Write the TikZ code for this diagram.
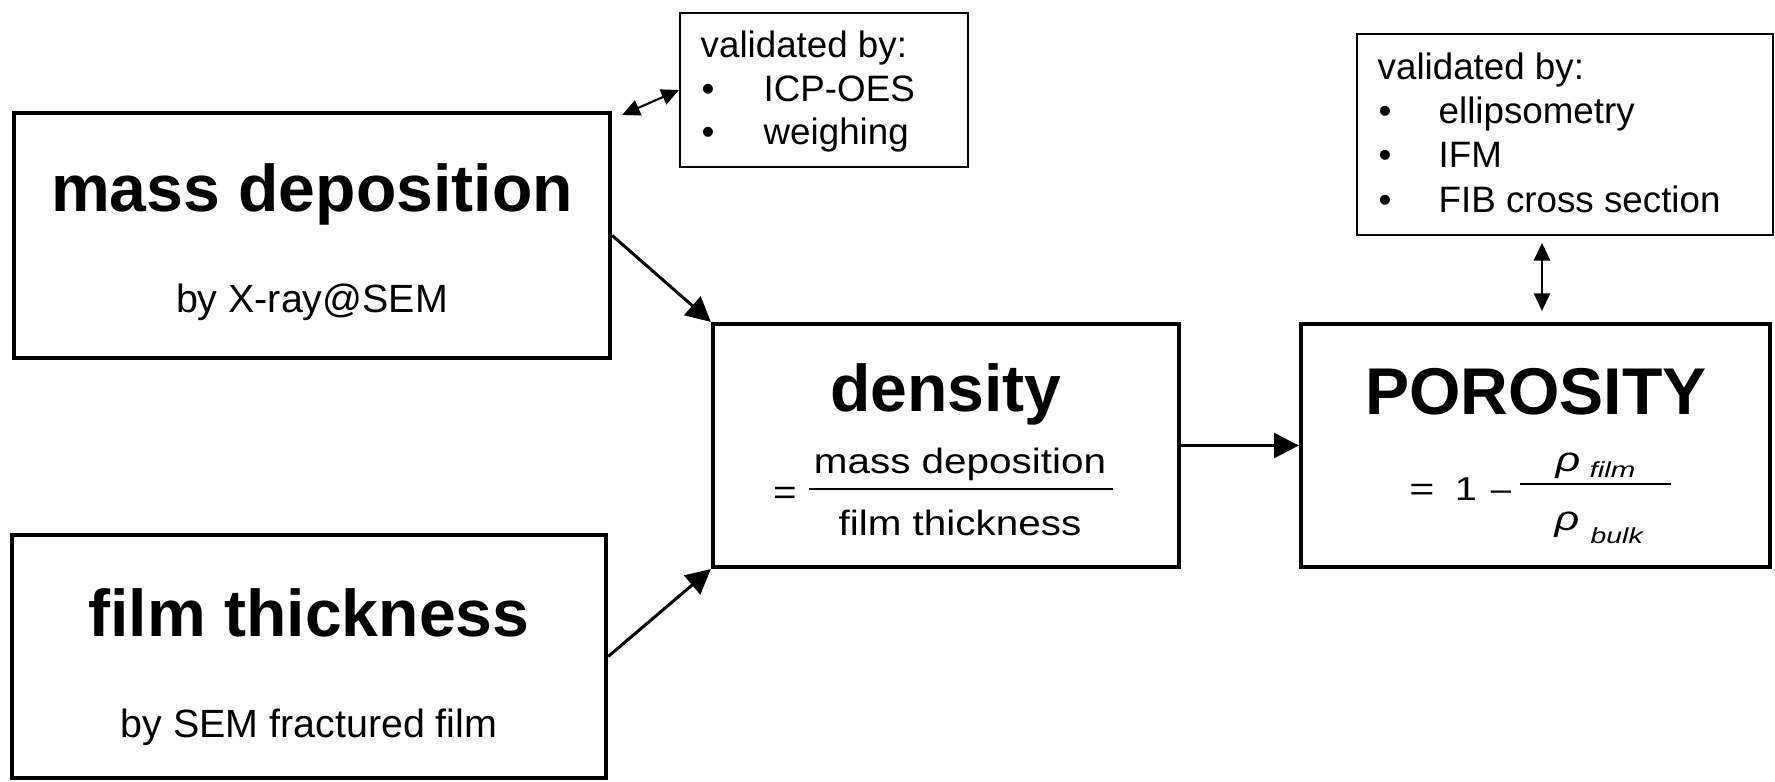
\documentclass[tikz,border=0pt]{standalone}
\usepackage{fontspec}
\setmainfont{Liberation Sans}
\usepackage{graphicx}
\usetikzlibrary{arrows.meta,calc}

\begin{document}
\begin{tikzpicture}[x=0.01cm,y=-0.01cm,
        block/.style={draw,line width=1.15pt,inner sep=0pt},
        valbox/.style={draw,line width=0.5pt,inner sep=0pt},
        headline/.style={font=\fontsize{18.8}{22}\selectfont\bfseries,inner sep=0pt,anchor=base},
        subline/.style={font=\fontsize{11.2}{13}\selectfont,inner sep=0pt,anchor=base},
        valtext/.style={font=\fontsize{10.45}{12}\selectfont,inner sep=0pt,anchor=base west},
        eqtext/.style={font=\fontsize{10}{12}\selectfont,inner sep=0pt,anchor=base},
        poreq/.style={font=\fontsize{9.4}{11}\selectfont,inner sep=0pt,anchor=base},
        rho/.style={font=\fontsize{9.8}{11}\selectfont\itshape,inner sep=0pt,anchor=base west},
        rhosub/.style={font=\fontsize{6.2}{7}\selectfont\itshape,inner sep=0pt,anchor=base west},
        flow/.style={line width=0.85pt,-{Triangle[length=7pt,width=7pt]}},
        check/.style={line width=0.6pt,{Triangle[length=5pt,width=4.6pt]}-{Triangle[length=5pt,width=4.6pt]}}]
                \useasboundingbox (0,0) rectangle (1775,782);
                % input boxes
                \node[block,minimum width=5.96cm,minimum height=2.45cm] (mass) at (312,235.5) {};
                \node[headline] (massT) at (312,212) {mass deposition};
                \node[subline] (massS) at (312,313) {by X-ray@SEM};
                \node[block,minimum width=5.94cm,minimum height=2.43cm] (film) at (309,656.5) {};
                \node[headline] (filmT) at (309,636) {film thickness};
                \node[subline] (filmS) at (309,737) {by SEM fractured film};
                % density
                \node[block,minimum width=4.66cm,minimum height=2.43cm] (dens) at (946,445.5) {};
                \node[headline] (densT) at (946,412) {density};
                \node[eqtext] (densEq) at (785,504) {\scalebox{1.15}[1]{=}};
                \node[eqtext] (densNum) at (960,473) {\scalebox{1.15}[1]{mass deposition}};
                \node[eqtext] (densDen) at (960,535) {\scalebox{1.15}[1]{film thickness}};
                \draw[line width=0.4pt] (809,489) -- (1113,489);
                % porosity
                \node[block,minimum width=4.69cm,minimum height=2.43cm] (por) at (1535.5,445.5) {};
                \node[headline] (porT) at (1536,415) {POROSITY};
                \node[poreq] (porEq) at (1422,500) {\scalebox{1.3}[1]{=}};
                \node[poreq] (porOne) at (1466,500) {\scalebox{1.2}[1]{1}};
                \node[poreq] (porMinus) at (1501,500) {\scalebox{1.1}[1]{–}};
                \draw[line width=0.4pt] (1520,484) -- (1671,484);
                \node[rho] (rhoF) at (1555,471) {\scalebox{1.25}[1]{ρ}};
                \node[rhosub] (subF) at (1589,478) {\scalebox{1.35}[1]{film}};
                \node[rho] (rhoB) at (1554,531) {\scalebox{1.25}[1]{ρ}};
                \node[rhosub] (subB) at (1590,543) {\scalebox{1.3}[1]{bulk}};
                % validation boxes
                \node[valbox,minimum width=2.88cm,minimum height=1.54cm] (val1) at (824,90) {};
                \node[valtext] (val1T) at (700,58) {validated by:};
                \foreach \y/\txt in {102/ICP-OES,145/weighing}
                {
                    \node[valtext] at (701,\y) {•};
                    \node[valtext] at (763,\y) {\txt};
                }
                \node[valbox,minimum width=4.16cm,minimum height=2.01cm] (val2) at (1565,134.5) {};
                \node[valtext] (val2T) at (1377,80) {validated by:};
                \foreach \y/\txt in {124/ellipsometry,168/IFM,213/FIB cross section}
                {
                    \node[valtext] at (1378,\y) {•};
                    \node[valtext] at (1438,\y) {\txt};
                }
                % connectors
                \draw[flow] (mass.east) -- (dens.north west);
                \draw[flow] (film.east) -- (dens.south west);
                \draw[flow] (dens.east) -- (por.west);
                \draw[check] ($(mass.north east)+(10,4)$) -- (val1.west);
                \draw[check] ($(val2.south)+(-23,7)$) -- ($(por.north)+(6.5,-11)$);
            \end{tikzpicture}
\end{document}
